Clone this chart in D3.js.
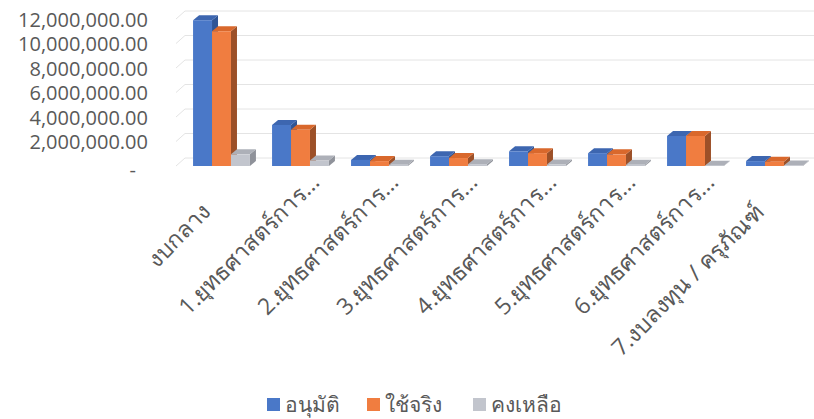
<!DOCTYPE html>
<html>
<head>
<meta charset="utf-8">
<script src="https://cdn.jsdelivr.net/npm/d3@7"></script>
<style>
  body { margin: 0; background: #fff; }
  text { font-family: "Open Sans", "Noto Sans", "DejaVu Sans", sans-serif; fill: #595959; }
</style>
</head>
<body>
<div id="app"></div>
<script>
const categories = ['งบกลาง', '1.ยุทธศาสตร์การ...', '2.ยุทธศาสตร์การ...', '3.ยุทธศาสตร์การ...',
  '4.ยุทธศาสตร์การ...', '5.ยุทธศาสตร์การ...', '6.ยุทธศาสตร์การ...', '7.งบลงทุน / ครุภัณฑ์'];
const seriesNames = ['อนุมัติ', 'ใช้จริง', 'คงเหลือ'];
const approved = [11900000, 3350000, 500000, 800000, 1200000, 1050000, 2450000, 400000];
const used = [11000000, 2950000, 400000, 650000, 1050000, 950000, 2450000, 350000];
const remaining = [950000, 450000, 100000, 150000, 120000, 100000, 20000, 50000];
const yTicks = [0, 2000000, 4000000, 6000000, 8000000, 10000000, 12000000];

const width = 814;
const height = 419;
const colors = [
  { front: '#4a78c8', top: '#3d66b0', side: '#2f5596' },
  { front: '#f07d40', top: '#d9682c', side: '#9c5028' },
  { front: '#c2c5cd', top: '#adb0b8', side: '#8f929a' }
];
const depth = { x: 6, y: -5 };
const wall = { x: 9, y: -8 };

const svg = d3.select('#app').append('svg')
  .attr('width', width)
  .attr('height', height);

const x = d3.scaleBand()
  .domain(categories)
  .range([182, 814])
  .paddingInner(0.28)
  .paddingOuter(0.14);

const xs = d3.scaleBand()
  .domain(seriesNames)
  .range([0, x.bandwidth()]);

const y = d3.scaleLinear()
  .domain([0, 12000000])
  .range([166, 19]);

// back wall gridlines
const grid = svg.append('g');
grid.selectAll('line.g')
  .data(yTicks)
  .enter().append('line')
  .attr('x1', 176 + wall.x)
  .attr('x2', width)
  .attr('y1', d => y(d) + wall.y)
  .attr('y2', d => y(d) + wall.y)
  .attr('stroke', '#e4e4e4')
  .attr('stroke-width', 1);
grid.selectAll('line.s')
  .data(yTicks)
  .enter().append('line')
  .attr('x1', 176)
  .attr('x2', 176 + wall.x)
  .attr('y1', d => y(d))
  .attr('y2', d => y(d) + wall.y)
  .attr('stroke', '#e4e4e4')
  .attr('stroke-width', 1);

// y axis
const yAxis = svg.append('g')
  .attr('transform', 'translate(152,0)')
  .call(d3.axisLeft(y).tickValues(yTicks).tickSize(0).tickPadding(4)
    .tickFormat(d => d === 0 ? '-' : d3.format(',.2f')(d)));
yAxis.select('.domain').remove();
yAxis.selectAll('text')
  .attr('font-size', 20)
  .attr('fill', '#595959')
  .style('font-family', '"Open Sans", sans-serif')
  .attr('dx', d => d === 0 ? -12 : 0)
  .attr('dy', d => d === 0 ? '0.5em' : '0.35em');

// bars
const rows = categories.map((c, i) => ({ c, vals: [approved[i], used[i], remaining[i]] }));
const cat = svg.append('g').selectAll('g')
  .data(rows)
  .enter().append('g')
  .attr('transform', d => `translate(${x(d.c)},0)`);

const bar = cat.selectAll('g')
  .data(d => d.vals.map((v, k) => ({ v, k, s: seriesNames[k] })))
  .enter().append('g');

bar.append('path')
  .attr('fill', d => colors[d.k].side)
  .attr('d', d => {
    const x1 = xs(d.s) + xs.bandwidth();
    return `M${x1},${y(0)}L${x1},${y(d.v)}L${x1 + depth.x},${y(d.v) + depth.y}L${x1 + depth.x},${y(0) + depth.y}Z`;
  });
bar.append('path')
  .attr('fill', d => colors[d.k].top)
  .attr('d', d => {
    const x0 = xs(d.s), x1 = x0 + xs.bandwidth(), t = y(d.v);
    return `M${x0},${t}L${x0 + depth.x},${t + depth.y}L${x1 + depth.x},${t + depth.y}L${x1},${t}Z`;
  });
bar.append('rect')
  .attr('x', d => xs(d.s))
  .attr('y', d => y(d.v))
  .attr('width', xs.bandwidth())
  .attr('height', d => y(0) - y(d.v))
  .attr('fill', d => colors[d.k].front);

// category labels
svg.append('g').selectAll('text')
  .data(categories)
  .enter().append('text')
  .attr('transform', d => `translate(${x(d) + x.bandwidth() / 2 - 3},207) rotate(-45)`)
  .attr('x', d => d.endsWith('...') ? 33 : -9)
  .attr('text-anchor', 'end')
  .attr('font-size', 23)
  .attr('fill', '#5f5f5f')
  .text(d => d);

// legend
const legendX = [267, 367, 473];
const legend = svg.append('g').selectAll('g')
  .data(seriesNames)
  .enter().append('g')
  .attr('transform', (d, i) => `translate(${legendX[i]},398)`);
legend.append('rect')
  .attr('width', 13)
  .attr('height', 13)
  .attr('fill', (d, i) => colors[i].front);
legend.append('text')
  .attr('x', 18)
  .attr('y', 7)
  .attr('dy', '0.35em')
  .attr('font-size', 21)
  .attr('fill', '#595959')
  .text(d => d);
</script>
</body>
</html>
